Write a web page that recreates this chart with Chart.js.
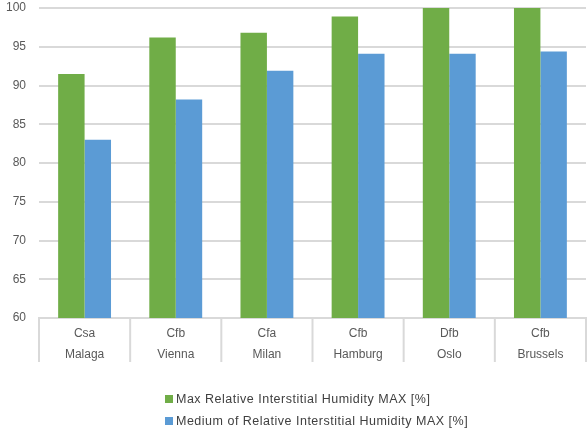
<!DOCTYPE html>
<html>
<head>
<meta charset="utf-8">
<script src="https://cdn.jsdelivr.net/npm/chart.js@4/dist/chart.umd.min.js"></script>
<style>
  html, body { margin: 0; padding: 0; background: #fff; }
  #wrap { position: relative; width: 587px; height: 434px; }
  #legend {
    position: absolute; left: 165px; top: 388px;
    font-family: "Liberation Sans", Arial, sans-serif; font-size: 12.5px;
    letter-spacing: 0.5px; color: #404040;
  }
  #legend .item { height: 22px; line-height: 18px; display: flex; align-items: center; }
  #legend .box { width: 8px; height: 8px; margin-right: 3px; display: inline-block; }
</style>
</head>
<body>
<div id="wrap">
  <canvas id="c" width="587" height="434"></canvas>
  <div id="legend"></div>
</div>
<script>
// Climate class and city for each group
const climates = ["Csa", "Cfb", "Cfa", "Cfb", "Dfb", "Cfb"];
const cities = ["Malaga", "Vienna", "Milan", "Hamburg", "Oslo", "Brussels"];

// Relative interstitial humidity [%]
const maxHumidity = [91.5, 96.2, 96.8, 98.9, 100, 100];
const mediumHumidity = [83.0, 88.2, 91.9, 94.1, 94.1, 94.4];

const seriesNames = [
  "Max Relative Interstitial Humidity MAX [%]",
  "Medium of Relative Interstitial Humidity MAX [%]"
];

const yMin = 60, yMax = 100, yStep = 5;

const labels = climates.map((c, i) => [c, cities[i]]);
const FONT = "'Liberation Sans', Arial, sans-serif";
const SEP_LEN = 44;

// Vertical separators between the category groups, below the axis line
const groupSeparators = {
  id: "groupSeparators",
  afterDraw(chart) {
    const x = chart.scales.x;
    const ctx = chart.ctx;
    const n = chart.data.labels.length;
    const step = x.getPixelForValue(1) - x.getPixelForValue(0);
    const top = chart.chartArea.bottom;
    ctx.save();
    ctx.strokeStyle = "#d9d9d9";
    ctx.lineWidth = 2;
    for (let i = 0; i <= n; i++) {
      const px = x.getPixelForValue(0) - step / 2 + i * step;
      ctx.beginPath();
      ctx.moveTo(px, top);
      ctx.lineTo(px, top + SEP_LEN);
      ctx.stroke();
    }
    ctx.restore();
  }
};

const chart = new Chart(document.getElementById("c"), {
  type: "bar",
  data: {
    labels: labels,
    datasets: [
      { label: seriesNames[0], data: maxHumidity, backgroundColor: "#70ad47" },
      { label: seriesNames[1], data: mediumHumidity, backgroundColor: "#5b9bd5" }
    ]
  },
  options: {
    responsive: false,
    animation: false,
    categoryPercentage: 0.58,
    barPercentage: 1.0,
    layout: { padding: { top: 8, right: 1, bottom: 70, left: 0 } },
    plugins: {
      legend: { display: false },
      tooltip: { enabled: false }
    },
    scales: {
      x: {
        afterFit: (s) => { s.height = 46; s.paddingLeft = 0; s.paddingRight = 0; },
        grid: { display: false },
        border: { display: true, color: "#d9d9d9", width: 2 },
        ticks: {
          padding: -3,
          maxRotation: 0,
          autoSkip: false,
          color: "#595959",
          font: { family: FONT, size: 12, lineHeight: 1.75 }
        }
      },
      y: {
        min: yMin,
        max: yMax,
        afterFit: (s) => { s.width = 39; s.paddingTop = 0; s.paddingBottom = 0; },
        grid: { color: "#d9d9d9", lineWidth: 2, drawTicks: false },
        border: { display: false },
        ticks: {
          stepSize: yStep,
          padding: 13,
          color: "#595959",
          font: { family: FONT, size: 12 }
        }
      }
    }
  },
  plugins: [groupSeparators]
});

// Legend listing the series in a single column
const legendEl = document.getElementById("legend");
chart.data.datasets.forEach((ds) => {
  const item = document.createElement("div");
  item.className = "item";
  const box = document.createElement("span");
  box.className = "box";
  box.style.background = ds.backgroundColor;
  const txt = document.createElement("span");
  txt.textContent = ds.label;
  item.appendChild(box);
  item.appendChild(txt);
  legendEl.appendChild(item);
});
</script>
</body>
</html>
